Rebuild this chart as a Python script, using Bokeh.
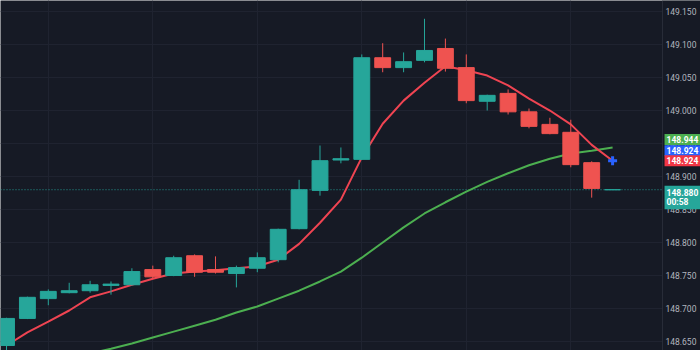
from bokeh.plotting import figure
from bokeh.models import (ColumnDataSource, Range1d, FixedTicker, NumeralTickFormatter,
                          Grid, Span, Label, BoxAnnotation)
from bokeh.embed import file_html
from bokeh.resources import INLINE

# ---------------- data ----------------
idx = list(range(30))
opens = [148.644, 148.685, 148.715, 148.724, 148.727, 148.735, 148.736, 148.759, 148.750, 148.780,
         148.759, 148.753, 148.761, 148.774, 148.821, 148.879, 148.925, 148.926, 149.080, 149.065,
         149.076, 149.094, 149.065, 149.014, 149.026, 148.998, 148.979, 148.967, 148.921, 148.880]
highs = [148.686, 148.718, 148.729, 148.739, 148.742, 148.741, 148.761, 148.765, 148.780, 148.782,
         148.779, 148.765, 148.785, 148.821, 148.895, 148.947, 148.944, 149.085, 149.102, 149.088,
         149.139, 149.109, 149.085, 149.024, 149.032, 149.003, 148.989, 148.986, 148.923, 148.880]
lows = [148.636, 148.684, 148.705, 148.723, 148.724, 148.721, 148.735, 148.745, 148.749, 148.748,
        148.753, 148.732, 148.755, 148.770, 148.820, 148.871, 148.920, 148.925, 149.058, 149.058,
        149.073, 149.059, 149.011, 149.000, 148.994, 148.973, 148.964, 148.914, 148.868, 148.880]
closes = [148.685, 148.717, 148.726, 148.727, 148.736, 148.737, 148.756, 148.748, 148.777, 148.755,
          148.755, 148.762, 148.777, 148.820, 148.880, 148.924, 148.927, 149.080, 149.065, 149.074,
          149.091, 149.064, 149.015, 149.023, 148.998, 148.976, 148.965, 148.918, 148.882, 148.880]

ma_fast = [148.644, 148.664, 148.680, 148.697, 148.717, 148.726, 148.736, 148.745, 148.753, 148.756,
           148.758, 148.761, 148.764, 148.774, 148.798, 148.830, 148.865, 148.929, 148.980, 149.015,
           149.042, 149.067, 149.061, 149.053, 149.038, 149.018, 149.000, 148.979, 148.948, 148.924]
ma_slow_idx = list(range(3, 30))
ma_slow = [148.624, 148.632, 148.639, 148.647, 148.656, 148.665, 148.674, 148.683, 148.694, 148.703,
           148.715, 148.727, 148.741, 148.756, 148.777, 148.800, 148.823, 148.844, 148.861, 148.877,
           148.892, 148.905, 148.917, 148.927, 148.935, 148.939, 148.944]

price_ticks = [148.65, 148.70, 148.75, 148.80, 148.85, 148.90, 148.95, 149.00, 149.05, 149.10, 149.15]
vgrid_ticks = [2, 7, 12, 17, 22, 27]
last_price = 148.880
timer_text = "00:58"

# ---------------- view / styles ----------------
X_START, CHART_END, X_END = -0.287, 31.39, 33.206   # chart area ends where the price scale begins
Y_START, Y_END = 148.6364, 149.1667

BG = "#161a25"
GRID = "#1f2330"
UP = "#26a69a"
DOWN = "#ef5350"
FAST = "#ef4452"
SLOW = "#4caf50"
BLUE = "#2962ff"
RED_TAG = "#f23645"
FONT = "Roboto"

colors = [UP if c >= o else DOWN for o, c in zip(opens, closes)]
src = ColumnDataSource(dict(
    x=idx, open=opens, high=highs, low=lows, close=closes,
    top=[max(o, c) for o, c in zip(opens, closes)],
    bottom=[min(o, c) for o, c in zip(opens, closes)],
    color=colors,
))

p = figure(width=700, height=350, output_backend="svg", toolbar_location=None,
           x_range=Range1d(X_START, X_END), y_range=Range1d(Y_START, Y_END),
           y_axis_location="right", x_axis_location=None,
           background_fill_color=BG, border_fill_color=BG, outline_line_color=None,
           min_border=0)

# grids
p.xgrid.grid_line_color = None
p.ygrid.ticker = FixedTicker(ticks=price_ticks)
p.ygrid.grid_line_color = GRID
p.ygrid.grid_line_width = 1
vg = Grid(dimension=0, ticker=FixedTicker(ticks=vgrid_ticks), grid_line_color=GRID, grid_line_width=1)
p.add_layout(vg)

# last price dotted line
p.add_layout(Span(location=last_price, dimension="width", line_color=UP,
                  line_dash="1 2", line_width=1, line_alpha=0.9, level="underlay"))

# price-scale area (covers grid / dotted line right of the chart)
p.add_layout(BoxAnnotation(left=CHART_END, fill_color=BG, fill_alpha=1.0,
                           line_color=None, level="underlay"))
p.add_layout(Span(location=CHART_END, dimension="height", line_color="#2a2e39",
                  line_width=1, level="underlay"))

# axis (labels drawn inside the price-scale area)
ax = p.yaxis[0]
ax.ticker = FixedTicker(ticks=price_ticks)
ax.formatter = NumeralTickFormatter(format="0.000")
ax.major_tick_line_color = None
ax.minor_tick_line_color = None
ax.major_tick_out = 0
ax.major_tick_in = 0
ax.minor_tick_out = 0
ax.minor_tick_in = 0
ax.axis_line_color = None
ax.major_label_text_color = "#b2b5be"
ax.major_label_text_font = FONT
ax.major_label_text_font_size = "8.5px"
ax.major_label_standoff = -35

# MA lines
p.line(ma_slow_idx, ma_slow, line_color=SLOW, line_width=2)
p.line(idx, ma_fast, line_color=FAST, line_width=2)

# candles
p.segment(x0="x", y0="low", x1="x", y1="high", line_color="color", line_width=1, source=src)
p.vbar(x="x", width=0.76, top="top", bottom="bottom", fill_color="color",
       line_color="color", line_width=1, source=src)

# current MA marker
p.scatter([idx[-1]], [ma_fast[-1]], marker="cross", size=9, line_width=3, line_color=BLUE)

# price tags on the price scale
def tag(val, color, yoff, text=None, baseline="middle", bold=True):
    lab = Label(x=CHART_END, y=val, x_offset=2, y_offset=yoff,
                text=text if text is not None else f"{val:.3f}",
                text_font=FONT, text_font_size="8.5px",
                text_font_style="bold" if bold else "normal",
                text_color="#ffffff", text_align="left", text_baseline=baseline,
                text_line_height=0.95,
                background_fill_color=color, padding=2, level="overlay")
    p.add_layout(lab)

tag(ma_slow[-1], SLOW, 8)
tag(ma_fast[-1], BLUE, 10)
tag(ma_fast[-1], RED_TAG, 0)
tag(last_price, UP, 4, text=f"{last_price:.3f}\n{timer_text}", baseline="top")

open("out.html", "w").write(file_html(p, INLINE))
